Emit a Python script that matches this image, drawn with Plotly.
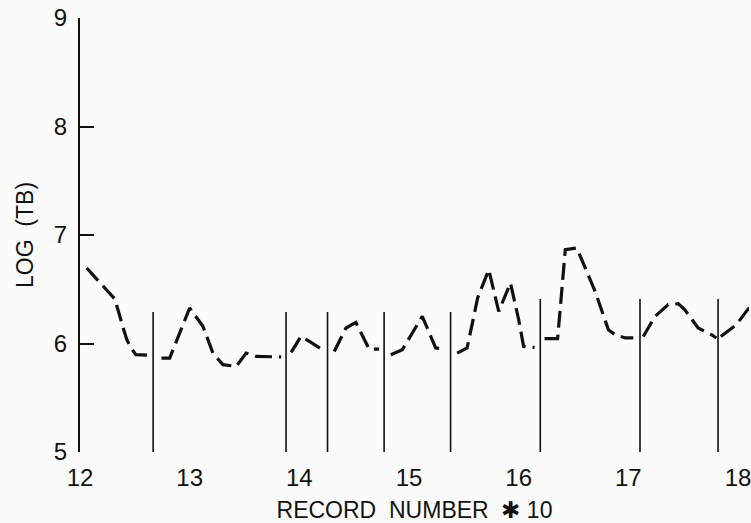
import plotly.graph_objects as go

# Log(TB) per record, one list per run segment (record number / 10)
seg_x = [
    [12.061, 12.318, 12.394, 12.427, 12.464, 12.509, 12.621],
    [12.743, 12.818, 13.000, 13.121, 13.212, 13.303, 13.425, 13.515, 13.606, 13.834],
    [13.925, 14.015, 14.102, 14.240],
    [14.318, 14.425, 14.515, 14.621, 14.636, 14.727],
    [14.834, 14.939, 15.121, 15.212, 15.243, 15.334],
    [15.439, 15.530, 15.626, 15.727, 15.818, 15.925, 16.000, 16.045, 16.145],
    [16.236, 16.355, 16.425, 16.530, 16.575, 16.697, 16.818, 16.879, 16.970, 17.045],
    [17.136, 17.243, 17.364, 17.455, 17.515, 17.636, 17.757, 17.803],
    [17.843, 17.985, 18.075, 18.120],
]
seg_y = [
    [6.696, 6.410, 6.143, 6.035, 5.961, 5.897, 5.892],
    [5.866, 5.866, 6.327, 6.158, 5.912, 5.805, 5.789, 5.912, 5.881, 5.876],
    [5.918, 6.065, 6.013, 5.924],
    [5.927, 6.143, 6.194, 5.973, 5.949, 5.949],
    [5.897, 5.943, 6.250, 6.035, 5.959, 5.949],
    [5.912, 5.959, 6.420, 6.680, 6.296, 6.558, 6.219, 5.973, 5.964],
    [6.045, 6.045, 6.865, 6.880, 6.772, 6.480, 6.127, 6.081, 6.051, 6.051],
    [6.065, 6.250, 6.358, 6.367, 6.311, 6.143, 6.081, 6.051],
    [6.065, 6.173, 6.296, 6.350],
]

# Segment boundaries (vertical separators) and their top values
break_x = [12.667, 13.879, 14.257, 14.773, 15.379, 16.197, 17.106, 17.818]
break_top = [6.29, 6.29, 6.29, 6.29, 6.29, 6.41, 6.41, 6.41]

x_ticks = [12, 13, 14, 15, 16, 17, 18]
y_ticks = [5, 6, 7, 8, 9]

INK = "#111111"
FONT = "Liberation Sans"

line_x, line_y = [], []
for xs, ys in zip(seg_x, seg_y):
    line_x += xs + [None]
    line_y += ys + [None]

vx, vy = [], []
for bx, top in zip(break_x, break_top):
    vx += [bx, bx, None]
    vy += [5, top, None]

fig = go.Figure()
fig.add_trace(go.Scatter(
    x=vx, y=vy, mode="lines",
    line=dict(color=INK, width=1.6),
    hoverinfo="skip", showlegend=False,
))
fig.add_trace(go.Scatter(
    x=line_x, y=line_y, mode="lines",
    line=dict(color=INK, width=3.2, dash="17px,7px"),
    connectgaps=False, showlegend=False,
))

fig.update_layout(
    width=751, height=523,
    margin=dict(l=80, r=0, t=18, b=71),
    paper_bgcolor="#fbfbfb", plot_bgcolor="#fbfbfb",
    font=dict(family=FONT, color=INK, size=24),
    xaxis=dict(
        range=[12, 18.1],
        tickvals=x_ticks, ticktext=[str(v) for v in x_ticks],
        showline=False, showgrid=False, zeroline=False, ticks="",
        ticklabelstandoff=9, ticklabeloverflow="allow",
        title=dict(text="RECORD  NUMBER  \u2731 10", standoff=12,
                   font=dict(size=23)),
    ),
    yaxis=dict(
        range=[5, 9],
        tickvals=y_ticks, ticktext=[str(v) for v in y_ticks],
        showline=True, linecolor=INK, linewidth=2,
        ticks="inside", ticklen=14, tickwidth=2, tickcolor=INK,
        showgrid=False, zeroline=False,
        ticklabelstandoff=6,
        title=dict(text="LOG  (TB)", standoff=14, font=dict(size=23)),
    ),
)

fig.write_html("out.html")
